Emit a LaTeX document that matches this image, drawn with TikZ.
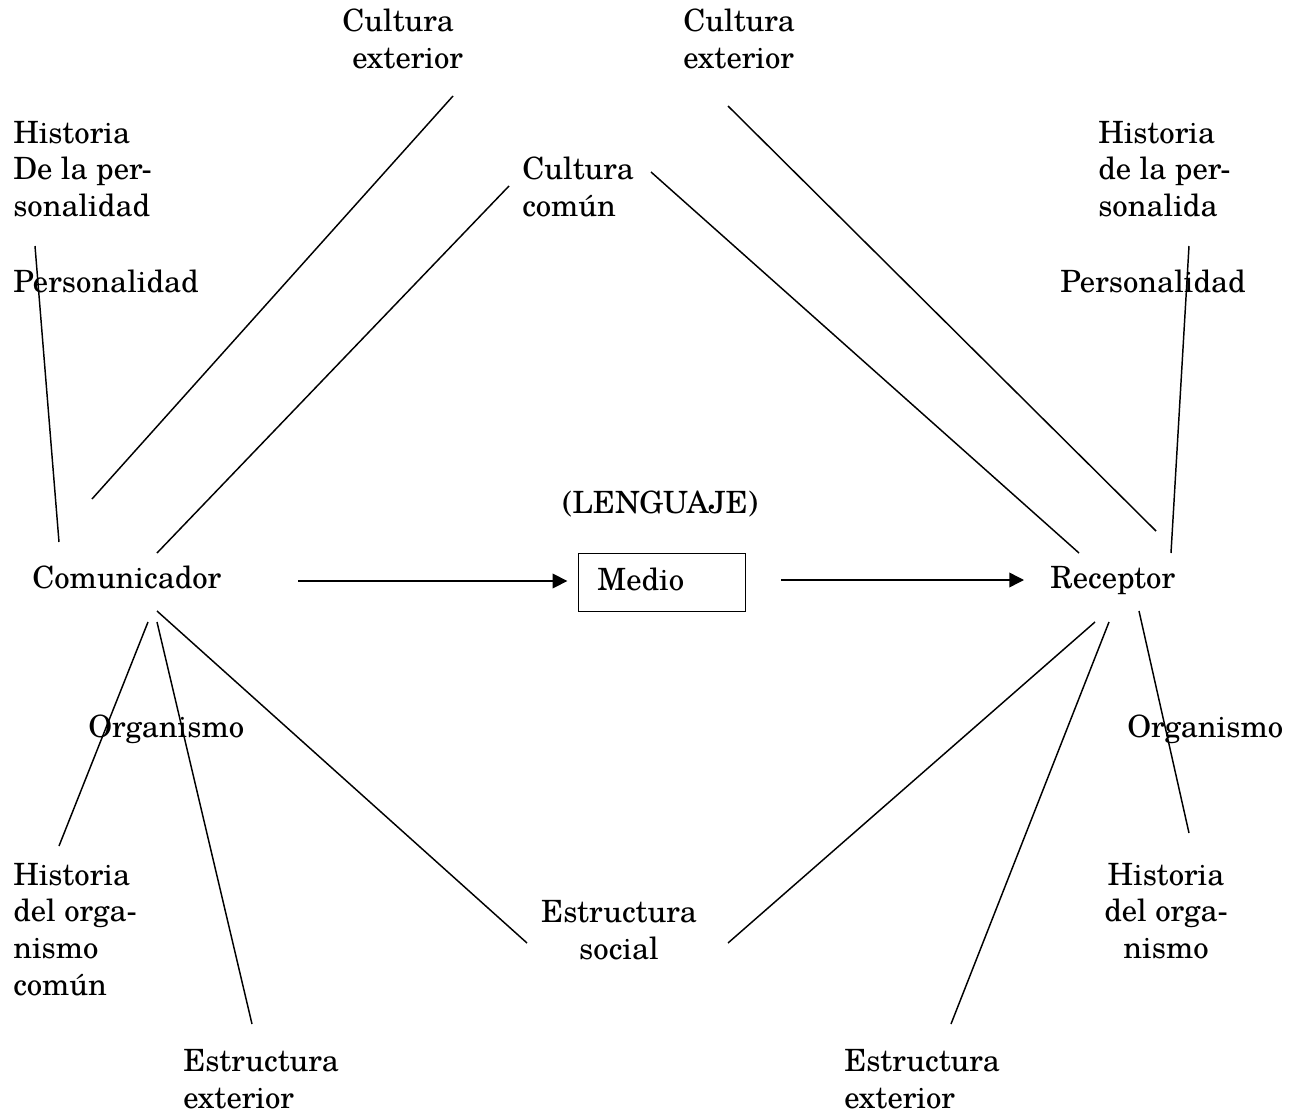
\documentclass[tikz,border=0pt]{standalone}
\usepackage{fontspec}
\setmainfont{TeX Gyre Schola}
\usetikzlibrary{arrows.meta}

\tikzset{
  texto/.style={inner sep=0pt,anchor=base west,align=left,
    font=\fontsize{23}{27.5}\selectfont},
  linea/.style={line width=1.1pt},
  flecha/.style={linea,-{Triangle[length=11pt,width=11pt]}}
}

\begin{document}
\begin{tikzpicture}[x=0.75pt,y=-0.75pt]
\useasboundingbox (0,0) rectangle (1293,1113);

% textos de arriba (base = ultima linea)
\node[texto] (histL) at (13,216.5) {Historia\\De la per-\\sonalidad};
\node[texto] (persL) at (13,292) {Personalidad};
\node[texto] (cultExtL) at (342,68.5) {Cultura\\\hspace*{7.5pt}exterior};
\node[texto] (cultCom) at (522,216.5) {Cultura\\común};
\node[texto] (cultExtR) at (683,68.5) {Cultura\\exterior};
\node[texto] (histR) at (1098,216.5) {Historia\\de la per-\\sonalida};
\node[texto] (persR) at (1060,292) {Personalidad};

% centro
\node[texto] (lenguaje) at (562,513) {(LENGUAJE)};
\node[texto] (comunicador) at (32,588) {Comunicador};
\node[texto] (receptor) at (1050,588) {Receptor};
\node[texto,draw,line width=1pt,anchor=north west,inner xsep=14pt,
  minimum width=125pt,minimum height=43.5pt,text width=97pt,
  text depth=5pt] (medio) at (578,553) {Medio};

% textos de abajo
\node[texto] (orgL) at (88,737) {Organismo};
\node[texto] (orgR) at (1127,737) {Organismo};
\node[texto] (histOrgL) at (13,995) {Historia\\del orga-\\nismo\\común};
\node[texto,anchor=base,align=center] (histOrgR) at (1166,958.5) {Historia\\del orga-\\nismo};
\node[texto,anchor=base,align=center] (estSoc) at (619,959.5) {Estructura\\social};
\node[texto] (estExtL) at (183,1108.5) {Estructura\\exterior};
\node[texto] (estExtR) at (844,1108.5) {Estructura\\exterior};

% extremos de las lineas
\foreach \n/\px/\py in {L1a/35/246, L1b/59/542, L2a/453/96, L2b/92/499,
    L3a/509/186, L3b/157/553, L4a/148/622, L4b/59/846,
    L5a/157/622, L5b/252/1024, L6a/157/611, L6b/527/943,
    R1a/1189/246, R1b/1171/553, R2a/728/106, R2b/1156/531,
    R3a/651/172, R3b/1079/553, R4a/1095/622, R4b/728/943,
    R5a/1109/622, R5b/951/1024, R6a/1139/611, R6b/1189/833,
    A1a/298/581, A2a/781/580, A2b/1024/580}
  \coordinate (\n) at (\px,\py);

\foreach \a/\b in {L1a/L1b, L2a/L2b, L3a/L3b, L4a/L4b, L5a/L5b, L6a/L6b,
    R1a/R1b, R2a/R2b, R3a/R3b, R4a/R4b, R5a/R5b, R6a/R6b}
  \draw[linea] (\a) -- (\b);

\draw[flecha] (A1a) -- ([xshift=-8pt]medio.west |- A1a);
\draw[flecha] (A2a) -- (A2b);
\end{tikzpicture}
\end{document}
